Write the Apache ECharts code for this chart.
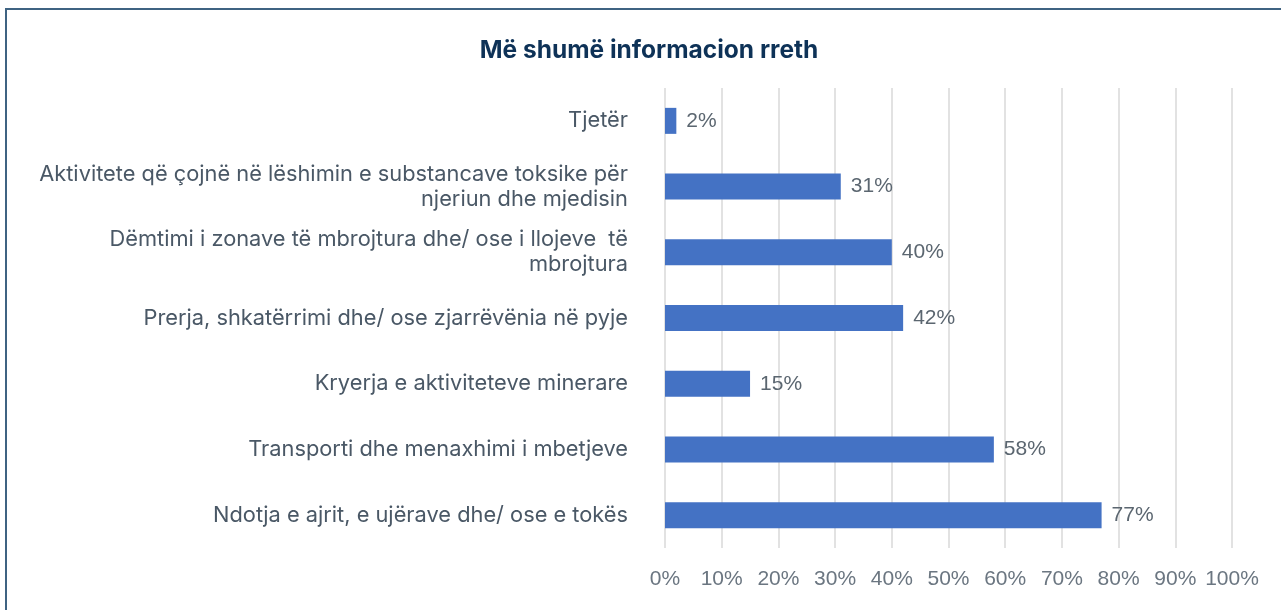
<!DOCTYPE html>
<html>
<head>
<meta charset="utf-8">
<script src="https://cdn.jsdelivr.net/npm/echarts@6/dist/echarts.min.js"></script>
<style>
html,body{margin:0;padding:0;background:#fff;}
#chart{width:1281px;height:610px;}
</style>
</head>
<body>
<div id="chart"></div>
<script>
const titleText = 'Më shumë informacion rreth';
const categories = [
  'Tjetër',
  'Aktivitete që çojnë në lëshimin e substancave toksike për\nnjeriun dhe mjedisin',
  'Dëmtimi i zonave të mbrojtura dhe/ ose i llojeve  të\nmbrojtura',
  'Prerja, shkatërrimi dhe/ ose zjarrëvënia në pyje',
  'Kryerja e aktiviteteve minerare',
  'Transporti dhe menaxhimi i mbetjeve',
  'Ndotja e ajrit, e ujërave dhe/ ose e tokës'
];
const values = [2, 31, 40, 42, 15, 58, 77];
const axisMin = 0, axisMax = 100, axisStep = 10;

const chart = echarts.init(document.getElementById('chart'));
chart.setOption({
  backgroundColor: '#fff',
  animation: false,
  graphic: [{
    type: 'rect',
    shape: {x: 6, y: 9, width: 1400, height: 800},
    style: {fill: 'none', stroke: '#3f6382', lineWidth: 2},
    silent: true
  }],
  title: {
    text: titleText,
    left: 644,
    textAlign: 'center',
    top: 33,
    textStyle: {fontFamily: 'Inter', fontSize: 24.5, fontWeight: 'bold', color: '#0e3257'}
  },
  grid: {left: 665, right: 49, top: 88, bottom: 62, containLabel: false},
  xAxis: {
    type: 'value',
    min: axisMin, max: axisMax, interval: axisStep,
    axisLine: {show: false},
    axisTick: {show: false},
    axisLabel: {
      formatter: '{value}%', margin: 21,
      fontFamily: 'Liberation Sans', fontSize: 21, color: '#6b7681'
    },
    splitLine: {show: true, lineStyle: {color: '#d9d9d9', width: 1.5}}
  },
  yAxis: {
    type: 'category',
    data: categories,
    inverse: true,
    axisLine: {show: false},
    axisTick: {show: false},
    axisLabel: {
      margin: 37, fontFamily: 'Inter', fontSize: 21.8, color: '#4a5866',
      lineHeight: 25, align: 'right'
    }
  },
  series: [{
    type: 'bar',
    data: values,
    barWidth: 26,
    itemStyle: {color: '#4472c4'},
    label: {
      show: true, position: 'right', distance: 10,
      formatter: '{c}%',
      fontFamily: 'Liberation Sans', fontSize: 21, color: '#5b6670'
    }
  }]
});
</script>
</body>
</html>
